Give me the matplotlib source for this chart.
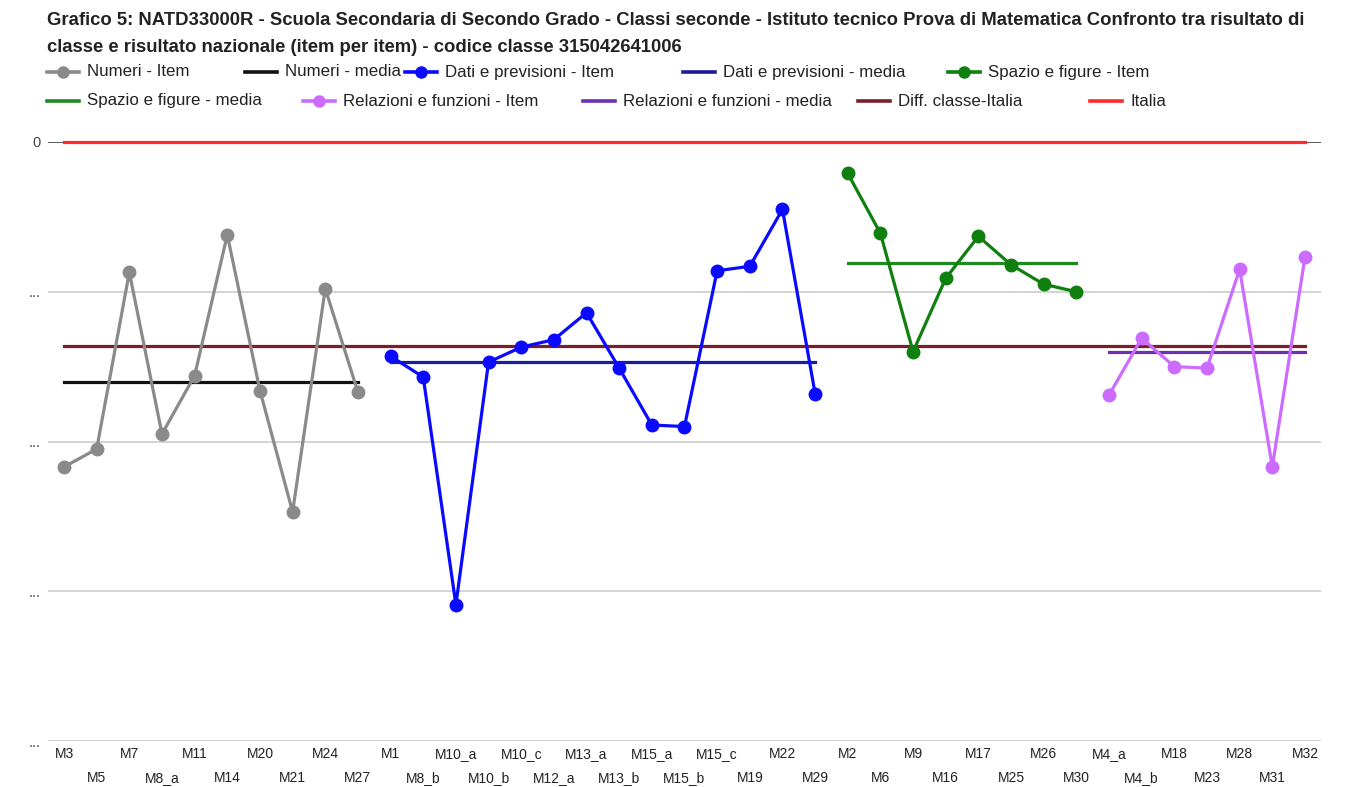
import numpy as np
import matplotlib.pyplot as plt
from matplotlib.lines import Line2D

plt.rcParams['font.family'] = ['Liberation Sans', 'DejaVu Sans']

numeri_items = ["M3", "M5", "M7", "M8_a", "M11", "M14", "M20", "M21", "M24", "M27"]
numeri_vals = [-21.7, -20.5, -8.7, -19.5, -15.6, -6.2, -16.6, -24.7, -9.8, -16.7]
numeri_media = -16.0

dati_items = ["M1", "M8_b", "M10_a", "M10_b", "M10_c", "M12_a", "M13_a", "M13_b",
              "M15_a", "M15_b", "M15_c", "M19", "M22", "M29"]
dati_vals = [-14.3, -15.7, -30.9, -14.7, -13.7, -13.2, -11.4, -15.1,
             -18.9, -19.0, -8.6, -8.3, -4.5, -16.8]
dati_media = -14.7

spazio_items = ["M2", "M6", "M9", "M16", "M17", "M25", "M26", "M30"]
spazio_vals = [-2.1, -6.1, -14.0, -9.1, -6.3, -8.2, -9.5, -10.0]
spazio_media = -8.1

relaz_items = ["M4_a", "M4_b", "M18", "M23", "M28", "M31", "M32"]
relaz_vals = [-16.9, -13.1, -15.0, -15.1, -8.5, -21.7, -7.7]
relaz_media = -14.0

diff_classe_italia = -13.6
italia = 0

groups = [
    ("Numeri", numeri_items, numeri_vals, numeri_media, "#8a8a8a", "#111111"),
    ("Dati e previsioni", dati_items, dati_vals, dati_media, "#0a0aff", "#1c1ca0"),
    ("Spazio e figure", spazio_items, spazio_vals, spazio_media, "#0f800f", "#1f8a1f"),
    ("Relazioni e funzioni", relaz_items, relaz_vals, relaz_media, "#cc6bff", "#6a32b0"),
]
diff_color = "#7d1c2a"
italia_color = "#ff2a2a"

all_items = numeri_items + dati_items + spazio_items + relaz_items
n = len(all_items)

fig = plt.figure(figsize=(13.51, 7.87), dpi=100)
ax = fig.add_axes([0.0353, 0.0584, 0.9427, 0.7612])

start = 0
for name, items, vals, media, c_item, c_med in groups:
    x = np.arange(start, start + len(items))
    ax.plot(x, [media] * len(items), color=c_med, lw=2.3, zorder=3)
    ax.plot(x, vals, color=c_item, lw=2.3, marker="o", markersize=9, zorder=4)
    start += len(items)

ax.plot(np.arange(n), [diff_classe_italia] * n, color=diff_color, lw=2.3, zorder=2)
ax.axhline(0, color="#444444", lw=1.2, zorder=1)
ax.plot(np.arange(n), [italia] * n, color=italia_color, lw=2.3, zorder=5, clip_on=False)

ax.set_xlim(-0.5, n - 0.5)
ax.set_ylim(-40, 0)
ax.set_yticks([0, -10, -20, -30, -40])
ax.set_yticklabels(["0", "...", "...", "...", "..."], color="#444444", fontsize=10.5)
ax.tick_params(axis="y", length=0, pad=5)
ax.grid(axis="y", color="#cccccc", lw=1.2)
ax.set_axisbelow(True)
for s in ax.spines.values():
    s.set_visible(False)

# etichette asse x su due righe alternate
ax.set_xticks(np.arange(n))
ax.set_xticklabels([])
ax.tick_params(axis="x", length=0)
xt = ax.get_xaxis_transform()
for i, lab in enumerate(all_items):
    yrow = -0.029 if i % 2 == 0 else -0.069
    ax.text(i, yrow, lab, transform=xt, ha="center", va="baseline",
            fontsize=10, color="#222222", clip_on=False)

fig.text(0.035, 0.985, "Grafico 5: NATD33000R - Scuola Secondaria di Secondo Grado - Classi seconde - "
         "Istituto tecnico Prova di Matematica Confronto tra risultato di\n"
         "classe e risultato nazionale (item per item) - codice classe 315042641006",
         fontsize=13.3, fontweight="bold", va="top", ha="left", color="#222222", linespacing=1.75)

legend_entries = [
    (47, 72, "Numeri - Item", groups[0][4], True),
    (245, 72, "Numeri - media", groups[0][5], False),
    (405, 72, "Dati e previsioni - Item", groups[1][4], True),
    (683, 72, "Dati e previsioni - media", groups[1][5], False),
    (948, 72, "Spazio e figure - Item", groups[2][4], True),
    (47, 101, "Spazio e figure - media", groups[2][5], False),
    (303, 101, "Relazioni e funzioni - Item", groups[3][4], True),
    (583, 101, "Relazioni e funzioni - media", groups[3][5], False),
    (858, 101, "Diff. classe-Italia", diff_color, False),
    (1090, 101, "Italia", italia_color, False),
]
W, H = 1351, 787
for px, py, label, col, mk in legend_entries:
    yf = 1 - py / H
    fig.add_artist(Line2D([px / W, (px + 32) / W], [yf, yf], color=col, lw=2.6,
                          transform=fig.transFigure))
    if mk:
        fig.add_artist(Line2D([(px + 16) / W], [yf], color=col, marker="o", markersize=8,
                              transform=fig.transFigure))
    fig.text((px + 40) / W, yf, label, fontsize=12.2, va="center", ha="left", color="#222222")

fig.savefig("out.png", dpi=100, facecolor="white")
